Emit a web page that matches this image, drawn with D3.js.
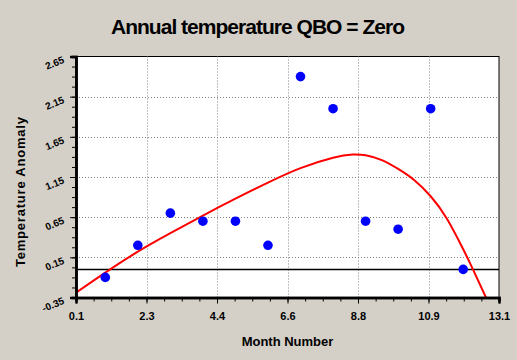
<html>
<head>
<script src="https://d3js.org/d3.v7.min.js"></script>
<style>
    body { margin: 0; background: #d4d0c8; }
    text { font-family: Arial, "Liberation Sans", sans-serif; font-weight: bold; fill: #000; }
</style>
</head>
<body>
<svg id="chart" width="517" height="360"></svg>
<script>
// observed monthly anomalies
const months = [1, 2, 3, 4, 5, 6, 7, 8, 9, 10, 11, 12];
const anomalies = [-0.1, 0.3, 0.7, 0.6, 0.6, 0.3, 2.4, 2.0, 0.6, 0.5, 2.0, 0.0];

// fitted curve
const fitMonths = [0.1, 1, 2, 3, 4, 5, 6, 7, 8, 8.6, 9, 9.5, 10, 10.5, 11, 11.5, 12, 12.3, 12.71];
const fitValues = [-0.29, -0.04, 0.22, 0.45, 0.67, 0.88, 1.08, 1.26, 1.39, 1.43, 1.42, 1.36, 1.25, 1.11, 0.91, 0.63, 0.25, 0.0, -0.36];

const xTickLabels = ["0.1", "2.3", "4.4", "6.6", "8.8", "10.9", "13.1"];
const yTickLabels = ["-0.35", "0.15", "0.65", "1.15", "1.65", "2.15", "2.65"];

const svg = d3.select("#chart");
const plotL = 76, plotR = 499, plotT = 56.5, plotB = 297.5;

const x = d3.scaleLinear().domain([0.1, 13.1]).range([plotL, plotR]);
const y = d3.scaleLinear().domain([-0.35, 2.65]).range([plotB, plotT]);

const xTicks = xTickLabels.map((d, i) => 0.1 + i * 13 / 6);
const yTicks = yTickLabels.map(d => +d);
const xMinor = d3.range(0, 25).map(i => 0.1 + i * 13 / 24);
const yMinor = d3.range(0, 25).map(i => -0.35 + i * 0.125);

// plot background
svg.append("rect")
    .attr("x", plotL).attr("y", plotT)
    .attr("width", plotR - plotL).attr("height", plotB - plotT)
    .attr("fill", "#fff")
    .attr("stroke", "#000").attr("stroke-width", 1);

// dotted grid
svg.append("g").selectAll("line")
    .data(xTicks.slice(1, -1))
    .join("line")
    .attr("x1", d => Math.round(x(d)) + 0.5).attr("x2", d => Math.round(x(d)) + 0.5)
    .attr("y1", plotT).attr("y2", plotB)
    .attr("stroke", "#808080").attr("stroke-dasharray", "1,2");
svg.append("g").selectAll("line")
    .data(yTicks.slice(1, -1))
    .join("line")
    .attr("y1", d => Math.round(y(d)) + 0.5).attr("y2", d => Math.round(y(d)) + 0.5)
    .attr("x1", plotL).attr("x2", plotR)
    .attr("stroke", "#808080").attr("stroke-dasharray", "1,2");

// zero line
svg.append("line")
    .attr("x1", plotL).attr("x2", plotR)
    .attr("y1", y(0)).attr("y2", y(0))
    .attr("stroke", "#000").attr("stroke-width", 1.5);

// fitted curve
svg.append("clipPath").attr("id", "plotclip")
    .append("rect").attr("x", plotL).attr("y", plotT)
    .attr("width", plotR - plotL).attr("height", plotB - plotT);

const fit = fitMonths.map((m, i) => [m, fitValues[i]]);
svg.append("path")
    .datum(fit)
    .attr("clip-path", "url(#plotclip)")
    .attr("fill", "none")
    .attr("stroke", "#ff0000")
    .attr("stroke-width", 2)
    .attr("d", d3.line().x(d => x(d[0])).y(d => y(d[1])).curve(d3.curveNatural));

// points
svg.append("g").selectAll("circle")
    .data(months)
    .join("circle")
    .attr("cx", (d, i) => x(d))
    .attr("cy", (d, i) => y(anomalies[i]))
    .attr("r", 4.8)
    .attr("fill", "#0000ff");

// axes
const xAxis = svg.append("g").attr("transform", "translate(0," + plotB + ")");
xAxis.call(d3.axisBottom(x).tickValues(xMinor).tickSize(4).tickFormat(""));
xAxis.append("g").call(d3.axisBottom(x).tickValues(xTicks).tickSize(6).tickFormat((d, i) => xTickLabels[i]));
xAxis.selectAll(".domain").attr("stroke-width", 2.5);
xAxis.selectAll("text").style("font-size", "11px").attr("dy", "1.2em");

const yAxis = svg.append("g").attr("transform", "translate(" + plotL + ",0)");
yAxis.call(d3.axisLeft(y).tickValues(yMinor).tickSize(4).tickFormat(""));
yAxis.append("g").call(d3.axisLeft(y).tickValues(yTicks).tickSize(6).tickFormat(""));
yAxis.selectAll(".domain").attr("stroke-width", 2.5);

yAxis.append("g").selectAll("text")
    .data(yTicks)
    .join("text")
    .attr("transform", d => "translate(-11," + (y(d) + 6) + ") rotate(-22)")
    .attr("text-anchor", "end")
    .style("font-size", "10px")
    .text((d, i) => yTickLabels[i]);

// titles
svg.append("text")
    .attr("x", 258).attr("y", 34)
    .attr("text-anchor", "middle")
    .attr("textLength", 294)
    .style("font-size", "21px")
    .text("Annual temperature QBO = Zero");

svg.append("text")
    .attr("x", (plotL + plotR) / 2).attr("y", 346)
    .attr("text-anchor", "middle")
    .style("font-size", "13px")
    .text("Month Number");

svg.append("text")
    .attr("transform", "translate(25,192) rotate(-90)")
    .attr("text-anchor", "middle")
    .attr("textLength", 150)
    .style("font-size", "13px")
    .text("Temperature Anomaly");
</script>
</body>
</html>
